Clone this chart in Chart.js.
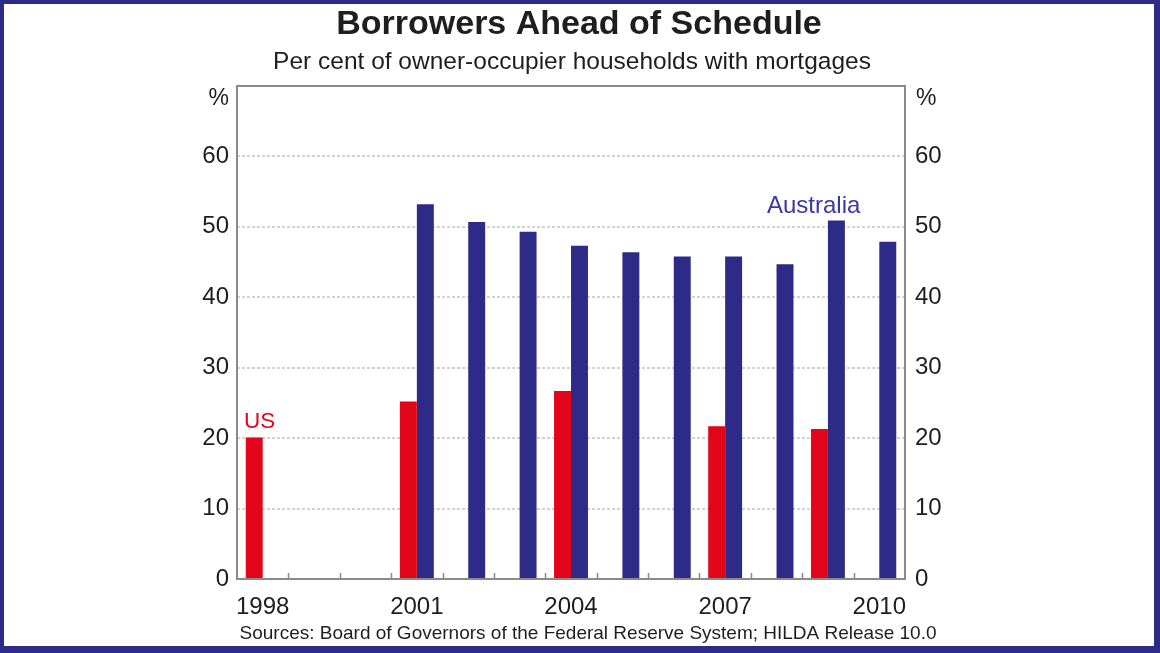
<!DOCTYPE html>
<html>
<head>
<meta charset="utf-8">
<script src="https://cdn.jsdelivr.net/npm/chart.js@4.4.1/dist/chart.umd.min.js"></script>
<style>
    html, body { margin: 0; padding: 0; background: #2e2a87; }
    #wrap { position: relative; width: 1160px; height: 653px; }
    canvas { display: block; }
</style>
</head>
<body>
<div id="wrap"><canvas id="chart" width="1160" height="653"></canvas></div>
<script>
// Dados do gráfico
const years = ['1998', '1999', '2000', '2001', '2002', '2003', '2004', '2005', '2006', '2007', '2008', '2009', '2010'];
const usValues = [20.1, null, null, 25.2, null, null, 26.7, null, null, 21.7, null, 21.3, null];
const australiaValues = [null, null, null, 53.2, 50.7, 49.3, 47.3, 46.4, 45.8, 45.8, 44.7, 50.9, 47.9];
const yTicks = [0, 10, 20, 30, 40, 50, 60];
const shownYears = ['1998', '2001', '2004', '2007', '2010'];

const RED = '#e3061a';
const BLUE = '#2e2a87';
const TEXT = '#1e1e1e';
const FONT = "'Liberation Sans', Arial, sans-serif";

// Fundo branco dentro da moldura azul + textos
const framePlugin = {
    id: 'framePlugin',
    beforeDraw(chart) {
        const ctx = chart.ctx;
        ctx.save();
        ctx.fillStyle = BLUE;
        ctx.fillRect(0, 0, 1160, 653);
        ctx.fillStyle = '#ffffff';
        ctx.fillRect(4, 4, 1150, 642);
        ctx.restore();
    },
    afterDraw(chart) {
        const ctx = chart.ctx;
        const area = chart.chartArea;
        const x = chart.scales.x;
        ctx.save();

        // Pequenos ticks entre categorias (para dentro)
        ctx.strokeStyle = '#8a8a8a';
        ctx.lineWidth = 1.5;
        const step = x.getPixelForValue(1) - x.getPixelForValue(0);
        for (let i = 1; i < years.length; i++) {
            const px = Math.round(x.getPixelForValue(i) - step / 2) + 0.5;
            ctx.beginPath();
            ctx.moveTo(px, area.bottom);
            ctx.lineTo(px, area.bottom - 6);
            ctx.stroke();
        }

        // Moldura da área do gráfico
        ctx.strokeStyle = '#8a8a8a';
        ctx.lineWidth = 2;
        ctx.strokeRect(area.left, area.top, area.right - area.left, area.bottom - area.top);

        // Títulos
        ctx.fillStyle = TEXT;
        ctx.textAlign = 'center';
        ctx.textBaseline = 'middle';
        ctx.font = 'bold 34px ' + FONT;
        ctx.fillText('Borrowers Ahead of Schedule', 579, 25);
        ctx.font = '24.5px ' + FONT;
        ctx.fillText('Per cent of owner-occupier households with mortgages', 572, 62);
        ctx.font = '19px ' + FONT;
        ctx.fillText('Sources: Board of Governors of the Federal Reserve System; HILDA Release 10.0', 588, 634);

        // Símbolos de %
        ctx.font = '23px ' + FONT;
        ctx.textAlign = 'right';
        ctx.fillText('%', 229, 99);
        ctx.textAlign = 'left';
        ctx.fillText('%', 916, 99);

        // Rótulos das séries
        ctx.font = '22.5px ' + FONT;
        ctx.fillStyle = RED;
        ctx.textAlign = 'left';
        ctx.fillText('US', 244, 422);
        ctx.font = '24px ' + FONT;
        ctx.fillStyle = '#3b38a3';
        ctx.fillText('Australia', 767, 206);
        ctx.restore();
    }
};

const tickFont = { family: FONT, size: 24 };

const yAxis = (position, width) => ({
    position: position,
    min: 0,
    max: 70,
    afterBuildTicks: (scale) => { scale.ticks = yTicks.map(v => ({ value: v })); },
    afterFit: (scale) => { scale.width = width; },
    ticks: {
        color: TEXT,
        font: tickFont,
        padding: position === 'left' ? 8 : 10
    },
    grid: {
        display: position === 'left',
        drawTicks: false,
        color: (c) => (c.tick.value === 0 ? 'rgba(0,0,0,0)' : '#d2d2d2'),
        lineWidth: 2
    },
    border: { display: false, dash: [3, 2] }
});

const ctx = document.getElementById('chart');
new Chart(ctx, {
    type: 'bar',
    data: {
        labels: years,
        datasets: [
            {
                label: 'US',
                data: usValues,
                backgroundColor: RED,
                yAxisID: 'y'
            },
            {
                label: 'Australia',
                data: australiaValues,
                backgroundColor: BLUE,
                yAxisID: 'y'
            }
        ]
    },
    options: {
        responsive: false,
        animation: false,
        layout: { padding: { top: 86, left: 0, right: 0, bottom: 0 } },
        datasets: {
            bar: { categoryPercentage: 0.66, barPercentage: 1.0 }
        },
        plugins: {
            legend: { display: false },
            tooltip: { enabled: false }
        },
        scales: {
            x: {
                afterFit: (scale) => { scale.height = 74; },
                ticks: {
                    color: TEXT,
                    font: tickFont,
                    padding: 14,
                    autoSkip: false,
                    maxRotation: 0,
                    callback: function (value) {
                        const lbl = this.getLabelForValue(value);
                        return shownYears.includes(lbl) ? lbl : '';
                    }
                },
                grid: { display: false, drawTicks: false },
                border: { display: false }
            },
            y: yAxis('left', 237),
            y2: yAxis('right', 255)
        }
    },
    plugins: [framePlugin]
});
</script>
</body>
</html>
